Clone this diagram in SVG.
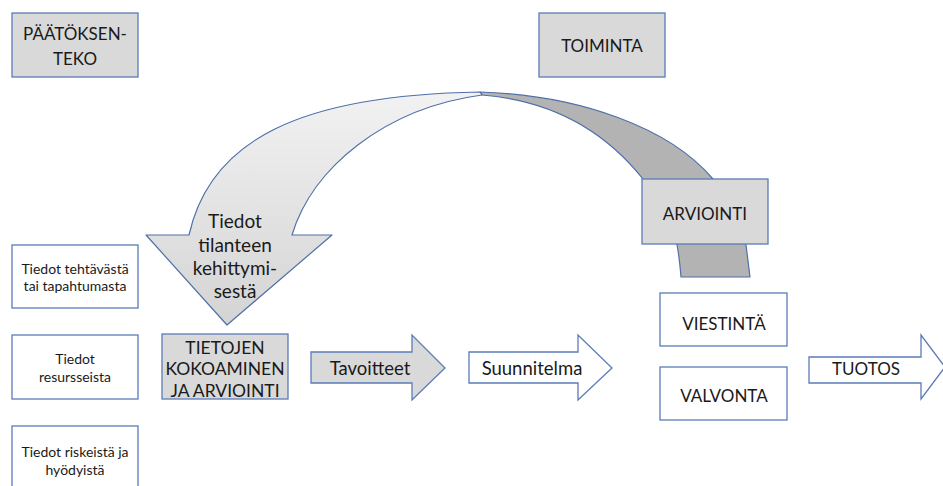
<svg xmlns="http://www.w3.org/2000/svg" width="943" height="486" viewBox="0 0 943 486">
  <defs>
    <linearGradient id="bandLight" x1="0" y1="0" x2="0" y2="1">
      <stop offset="0" stop-color="#f2f2f2"/>
      <stop offset="1" stop-color="#d4d4d4"/>
    </linearGradient>
    <style>
      .box { fill: #ffffff; stroke: #5a7cb8; stroke-width: 1.3; }
      .grey { fill: #d9d9d9; stroke: #5a7cb8; stroke-width: 1.3; }
      .band { stroke: #4f6fa8; stroke-width: 1.2; stroke-linejoin: round; }
      text { font-family: Lato, "Open Sans", "Liberation Sans", sans-serif; fill: #1a1a1a; text-anchor: middle; dominant-baseline: central; }
      .big { font-size: 17px; }
      .head { font-size: 19px; }
      .small { font-size: 14px; }
      .mid { font-size: 17.5px; }
      .lower { font-size: 18.5px; }
    </style>
  </defs>

  <!-- curved feedback arrow: back face (dark) and front face (light) -->
  <g id="connectors">
    <path class="band" fill="#b3b3b3" d="M 480,92 C 580,95 670,128 713,179 L 746,245 L 750,277 L 681,277 C 680,265 679,255 677,245 L 643,179 C 600,125 545,100 482,95 Z"/>
    <path class="band" fill="url(#bandLight)" d="M 480,92 C 300,95 210,140 189,235 L 146,235 L 227,325 L 332,235 L 292,235 C 312,168 385,108 482,95 Z"/>
  </g>

  <g id="paatoksenteko">
    <rect class="grey" x="12" y="13" width="126" height="64"/>
    <text class="big" x="75" y="33" font-size="16">PÄÄTÖKSEN-</text>
    <text class="big" x="75" y="58" font-size="16">TEKO</text>
  </g>

  <g id="toiminta">
    <rect class="grey" x="539" y="13" width="126" height="64"/>
    <text class="big" x="602" y="45">TOIMINTA</text>
  </g>

  <g id="arviointi">
    <rect class="grey" x="642" y="179" width="126" height="65"/>
    <text class="big" x="705" y="213">ARVIOINTI</text>
  </g>

  <g id="tilanne">
    <text class="head" x="235" y="220">Tiedot</text>
    <text class="head" x="235" y="244">tilanteen</text>
    <text class="head" x="235" y="267">kehittymi-</text>
    <text class="head" x="235" y="290">sestä</text>
  </g>

  <g id="tehtava">
    <rect class="box" x="12" y="245" width="126" height="63"/>
    <text class="small" x="75" y="268">Tiedot tehtävästä</text>
    <text class="small" x="75" y="285">tai tapahtumasta</text>
  </g>

  <g id="resurssit">
    <rect class="box" x="12" y="335" width="126" height="64"/>
    <text class="small" x="75" y="358">Tiedot</text>
    <text class="small" x="75" y="376">resursseista</text>
  </g>

  <g id="riskit">
    <rect class="box" x="12" y="426" width="126" height="66"/>
    <text class="small" x="75" y="451">Tiedot riskeistä ja</text>
    <text class="small" x="75" y="469">hyödyistä</text>
  </g>

  <g id="tietojen-kokoaminen">
    <rect class="grey" x="162" y="334" width="126" height="65"/>
    <text class="mid" x="225" y="347">TIETOJEN</text>
    <text class="mid" x="225" y="368">KOKOAMINEN</text>
    <text class="mid" x="225" y="390">JA ARVIOINTI</text>
  </g>

  <g id="tavoitteet">
    <path class="grey" d="M 311,352 L 412,352 L 412,335 L 445,368 L 412,400 L 412,383 L 311,383 Z"/>
    <text class="lower" x="370" y="368">Tavoitteet</text>
  </g>

  <g id="suunnitelma">
    <path class="box" d="M 469,352 L 578,352 L 578,335 L 612,368 L 578,400 L 578,383 L 469,383 Z"/>
    <text class="lower" x="532" y="368">Suunnitelma</text>
  </g>

  <g id="viestinta">
    <rect class="box" x="660" y="293" width="127" height="53"/>
    <text class="big" x="724" y="323">VIESTINTÄ</text>
  </g>

  <g id="valvonta">
    <rect class="box" x="660" y="367" width="127" height="53"/>
    <text class="big" x="724" y="395">VALVONTA</text>
  </g>

  <g id="tuotos">
    <path class="box" d="M 809,357 L 921,357 L 921,335 L 945,367 L 921,399 L 921,383 L 809,383 Z"/>
    <text class="big" x="866" y="368" font-size="15.5">TUOTOS</text>
  </g>
</svg>
